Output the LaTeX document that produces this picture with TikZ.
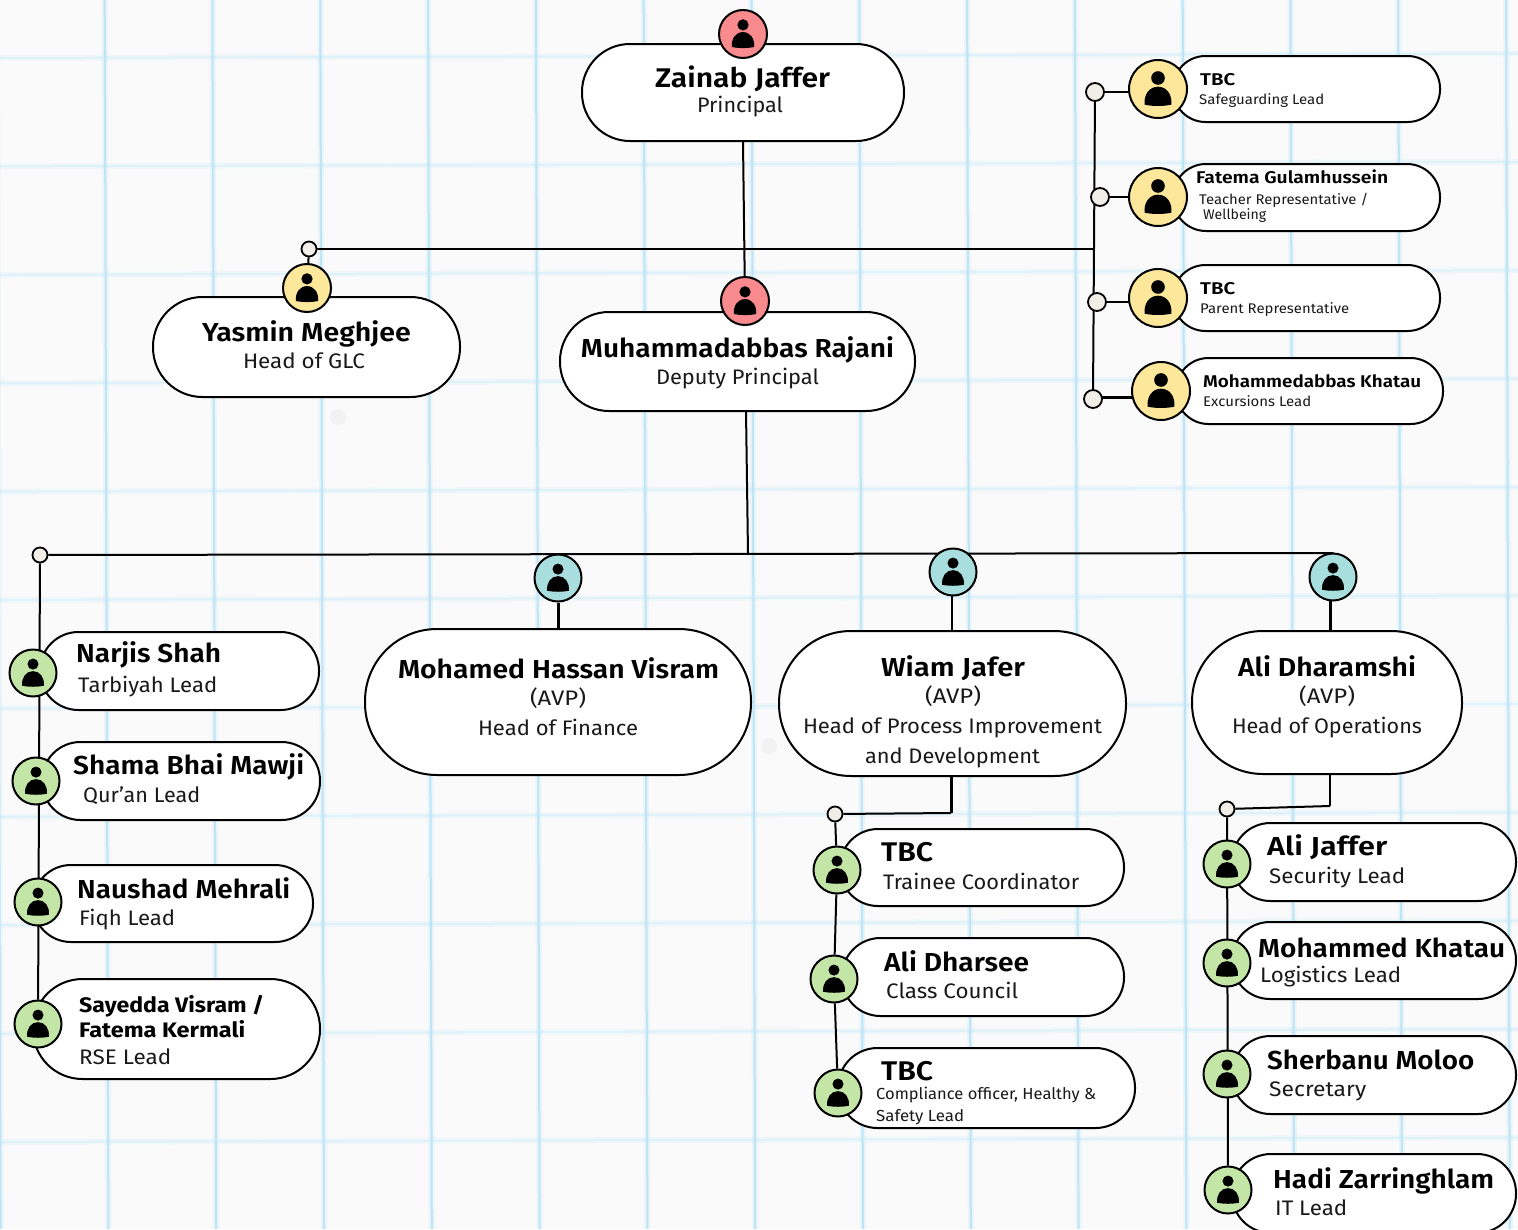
\documentclass[tikz,border=0pt]{standalone}
\usepackage{fontspec}
\usepackage{graphicx}
\setmainfont{Fira Sans}
\newfontfamily\nmf{Fira Sans SemiBold}
\newfontfamily\bdf{Fira Sans Bold}
\usetikzlibrary{backgrounds}
\definecolor{paper}{HTML}{FAFAFB}
\definecolor{gridv}{HTML}{BDE5F6}
\definecolor{gridh}{HTML}{DFF2FA}
\definecolor{cred}{HTML}{F98A8E}
\definecolor{cyel}{HTML}{FDE79A}
\definecolor{ctea}{HTML}{A9DEDF}
\definecolor{cgrn}{HTML}{C3E6A6}
\definecolor{cjun}{HTML}{F1EEE8}
\tikzset{
  pill/.style={draw=black,line width=2pt,fill=white,inner sep=0pt},
  avatar/.style={circle,draw=black,line width=2pt,inner sep=0pt},
  junction/.style={circle,draw=black,line width=1.8pt,fill=cjun,inner sep=0pt,minimum size=16pt},
  conn/.style={draw=black,line width=2pt},
  nametext/.style={font=\nmf\fontsize{#1}{#1}\selectfont,inner sep=0pt,text=black},
  subtext/.style={font=\fontsize{#1}{#1}\selectfont,inner sep=0pt,text=black!90},
}
% \pillbox{name}{x0}{y0}{x1}{y1}{radius}
\newcommand{\pillbox}[6]{%
  \pgfmathsetmacro{\pw}{#4-#2}\pgfmathsetmacro{\ph}{#5-#3}%
  \node[pill,rounded corners=#6pt,minimum width=\pw pt,minimum height=\ph pt] (#1) at ({(#2+#4)/2},{(#3+#5)/2}) {};}
% \person{name}{x}{y}{r}{colour}
\newcommand{\person}[5]{%
  \pgfmathsetmacro{\dd}{2*#4}%
  \node[avatar,fill=#5,minimum size=\dd pt] (#1) at (#2,#3) {};
  \begin{scope}[shift={(#1.center)},x=#4pt,y=-#4pt]
    \fill[black] (0,-.38) circle[radius=.235];
    \fill[black] (-.46,.54) .. controls (-.5,.2) and (-.3,-.08) .. (0,-.08)
      .. controls (.3,-.08) and (.5,.2) .. (.46,.54)
      .. controls (.2,.6) and (-.2,.6) .. cycle;
  \end{scope}}
% text nodes: name, x, baseline y, anchor, size, width, text
\newcommand{\nt}[7]{\node[nametext=#5,anchor=#4] (#1) at (#2,#3) {\resizebox{#6pt}{\height}{#7}};}
\newcommand{\st}[7]{\node[subtext=#5,anchor=#4] (#1) at (#2,#3) {\resizebox{#6pt}{\height}{#7}};}
\begin{document}
\begin{tikzpicture}[x=1pt,y=-1pt]
\useasboundingbox (0,0) rectangle (1518,1229);
\clip (0,0) rectangle (1518,1229);

% ---------- nodes ----------
\pillbox{zainab}{582}{44}{904}{141}{48}
\pillbox{yasmin}{153}{297}{460}{397}{49.5}
\pillbox{rajani}{560}{312}{915}{411}{49}
\pillbox{rb1}{1173}{56}{1440}{122}{32.5}
\pillbox{rb2}{1173}{164}{1440}{231}{33}
\pillbox{rb3}{1173}{265}{1440}{331}{32.5}
\pillbox{rb4}{1176}{358}{1443}{424}{32.5}
\pillbox{visram}{365}{629}{751}{775}{72}
\pillbox{wiam}{779}{631}{1126}{776}{72}
\pillbox{dharamshi}{1192}{631}{1462}{774}{71}
\pillbox{narjis}{40}{632}{319}{710}{38.5}
\pillbox{shama}{42}{742}{320}{820}{38.5}
\pillbox{naushad}{33}{865}{313}{942}{38}
\pillbox{sayedda}{33}{979}{320}{1079}{49.5}
\pillbox{tbca}{840}{829}{1124}{906}{38}
\pillbox{dharsee}{842}{938}{1124}{1016}{38.5}
\pillbox{tbcb}{838}{1048}{1135}{1128}{39.5}
\pillbox{jaffer}{1232}{823}{1516}{901}{38.5}
\pillbox{khatau}{1232}{922}{1516}{999}{38}
\pillbox{moloo}{1232}{1036}{1516}{1114}{38.5}
\pillbox{hadi}{1232}{1154}{1516}{1233}{39}

\person{azainab}{743}{34}{24}{cred}
\person{arajani}{745}{301}{24}{cred}
\person{ayasmin}{307}{288}{24}{cyel}
\person{arb1}{1158}{89}{29}{cyel}
\person{arb2}{1158}{197}{29}{cyel}
\person{arb3}{1158}{298}{29}{cyel}
\person{arb4}{1161}{391}{29}{cyel}
\person{avisram}{558}{578}{23.5}{ctea}
\person{awiam}{953}{572}{23.5}{ctea}
\person{adharamshi}{1333}{577}{23.5}{ctea}
\person{anarjis}{33}{673}{23.5}{cgrn}
\person{ashama}{36}{781}{23.5}{cgrn}
\person{anaushad}{38}{902}{23.5}{cgrn}
\person{asayedda}{38}{1024}{23.5}{cgrn}
\person{atbca}{837}{870}{23.5}{cgrn}
\person{adharsee}{834}{979}{23.5}{cgrn}
\person{atbcb}{838}{1093}{23.5}{cgrn}
\person{ajaffer}{1227}{864}{23.5}{cgrn}
\person{akhatau}{1227}{963}{23.5}{cgrn}
\person{amoloo}{1227}{1074}{23.5}{cgrn}
\person{ahadi}{1228}{1190}{23.5}{cgrn}

\node[junction,minimum size=15pt] (jglc) at (309,249) {};
\node[junction,minimum size=18pt] (jr1) at (1095,92) {};
\node[junction,minimum size=18pt] (jr2) at (1100,197) {};
\node[junction,minimum size=18pt] (jr3) at (1097,302) {};
\node[junction,minimum size=18pt] (jr4) at (1093,399) {};
\node[junction,minimum size=15pt] (jleft) at (40,555) {};
\node[junction,minimum size=15pt] (jwiam) at (835,814) {};
\node[junction,minimum size=15pt] (jali) at (1227,809) {};

\coordinate (cglc) at (1095,249);
\coordinate (ctop) at (1333,553);
\coordinate (crajbot) at (746,411);
\coordinate (cbranch) at (748,554);
\coordinate (cvisram) at (558,554);
\coordinate (cwiam) at (953,554);
\coordinate (cwiamel) at (951,813);
\coordinate (calitop) at (1330,774);
\coordinate (caliel) at (1330,806);
\coordinate (cwiamtop) at (951,776);
\coordinate (cwiamupper) at (952,596);
\coordinate (cwiamin) at (952,631);
\coordinate (caliupper) at (1330,600);
\coordinate (caliin) at (1330,631);
\coordinate (cr1) at (1135,92);
\coordinate (cr2) at (1135,197);
\coordinate (cr3) at (1135,302);
\coordinate (cr4a) at (1093,397);
\coordinate (cr4b) at (1140,397);

% ---------- texts ----------
\nt{t1}{742.5}{87}{base}{27}{175}{Zainab Jaffer}
\st{t2}{740}{112}{base}{21}{86}{Principal}
\nt{t3}{306.5}{341}{base}{26}{209}{Yasmin Meghjee}
\st{t4}{304}{368}{base}{21}{122}{Head of GLC}
\nt{t5}{737.5}{357}{base}{26}{313}{Muhammadabbas Rajani}
\st{t6}{737.5}{384}{base}{21}{163}{Deputy Principal}
\nt{t7}{1200}{85}{base west}{17}{35}{TBC}
\st{t8}{1199}{104}{base west}{14}{125}{Safeguarding Lead}
\nt{t9}{1196}{183}{base west}{17}{192}{Fatema Gulamhussein}
\st{t10}{1199}{204}{base west}{14}{169}{Teacher Representative /}
\st{t11}{1203}{219}{base west}{14}{63}{Wellbeing}
\nt{t12}{1200}{294}{base west}{17}{35}{TBC}
\st{t13}{1200}{313}{base west}{14}{149}{Parent Representative}
\nt{t14}{1203}{387}{base west}{17}{218}{Mohammedabbas Khatau}
\st{t15}{1203}{406}{base west}{14}{108}{Excursions Lead}
\nt{t16}{558.5}{678}{base}{26}{321}{Mohamed Hassan Visram}
\st{t17}{558}{705}{base}{21}{56}{(AVP)}
\st{t18}{558}{735}{base}{21}{160}{Head of Finance}
\nt{t19}{953}{676}{base}{26}{144}{Wiam Jafer}
\st{t20}{953}{703}{base}{21}{56}{(AVP)}
\st{t21}{952.5}{733}{base}{21}{299}{Head of Process Improvement}
\st{t22}{952.5}{763}{base}{21}{175}{and Development}
\nt{t23}{1327}{676}{base}{26}{178}{Ali Dharamshi}
\st{t24}{1327}{703}{base}{21}{56}{(AVP)}
\st{t25}{1327}{733}{base}{21}{190}{Head of Operations}
\nt{t26}{76}{662}{base west}{26}{145}{Narjis Shah}
\st{t27}{78}{692}{base west}{21}{139}{Tarbiyah Lead}
\nt{t28}{73}{774}{base west}{26}{231}{Shama Bhai Mawji}
\st{t29}{83}{802}{base west}{21}{117}{Qur’an Lead}
\nt{t30}{77}{898}{base west}{26}{213}{Naushad Mehrali}
\st{t31}{79}{925}{base west}{21}{96}{Fiqh Lead}
\nt{t32}{79}{1012}{base west}{21}{185}{\bdf Sayedda Visram /}
\nt{t33}{79}{1037}{base west}{21}{166}{\bdf Fatema Kermali}
\st{t34}{79}{1064}{base west}{21}{92}{RSE Lead}
\nt{t35}{881}{861}{base west}{27}{52}{TBC}
\st{t36}{883}{889}{base west}{21}{196}{Trainee Coordinator}
\nt{t37}{884}{971}{base west}{26}{145}{Ali Dharsee}
\st{t38}{886}{998}{base west}{21}{132}{Class Council}
\nt{t39}{881}{1080}{base west}{27}{52}{TBC}
\st{t40}{876}{1099}{base west}{16}{220}{Compliance officer, Healthy \&}
\st{t41}{876}{1121}{base west}{16}{88}{Safety Lead}
\nt{t42}{1267}{855}{base west}{26}{120}{Ali Jaffer}
\st{t43}{1269}{883}{base west}{21}{136}{Security Lead}
\nt{t44}{1258}{957}{base west}{26}{247}{Mohammed Khatau}
\st{t45}{1260}{982}{base west}{21}{141}{Logistics Lead}
\nt{t46}{1267}{1069}{base west}{26}{207}{Sherbanu Moloo}
\st{t47}{1269}{1096}{base west}{21}{97}{Secretary}
\nt{t48}{1273}{1188}{base west}{26}{221}{Hadi Zarringhlam}
\st{t49}{1275}{1215}{base west}{21}{72}{IT Lead}

% ---------- paper and connectors ----------
\begin{pgfonlayer}{background}
  \fill[paper] (0,0) rectangle (1518,1229);
  \foreach \k in {0,...,10} {
    \pgfmathsetmacro{\ya}{58+108.4*\k}
    \pgfmathsetmacro{\yb}{\ya-4.5}
    \draw[gridh,opacity=.35,line width=6pt] (0,\ya) -- (1518,\yb);
    \draw[gridh,line width=2pt] (0,\ya) -- (1518,\yb);
  }
  \foreach \k in {-1,...,13} {
    \pgfmathsetmacro{\xa}{104.7+107.8*\k}
    \pgfmathsetmacro{\xb}{\xa+3.7}
    \draw[gridv,opacity=.25,line width=6pt] (\xa,0) -- (\xb,1229);
    \draw[gridv,line width=2pt] (\xa,0) -- (\xb,1229);
  }
  \fill[black!5] (338,417) circle[radius=8];
  \fill[black!5] (769,746) circle[radius=8];
  \draw[conn] (zainab.south) -- (arajani);
  \draw[conn] (jglc) -- (ayasmin);
  \draw[conn] (jglc) -- (cglc);
  \draw[conn] (jr1) -- (jr4);
  \draw[conn] (jr1) -- (cr1);
  \draw[conn] (jr2) -- (cr2);
  \draw[conn] (jr3) -- (cr3);
  \draw[conn,line width=3pt] (cr4a) -- (cr4b);
  \draw[conn] (crajbot) -- (cbranch);
  \draw[conn] (jleft) -- (ctop) -- (adharamshi);
  \draw[conn] (cvisram) -- (avisram);
  \draw[conn] (cwiam) -- (awiam);
  \draw[conn,line width=3pt] (avisram) -- (visram.north);
  \draw[conn] (cwiamupper) -- (cwiamin);
  \draw[conn,line width=3pt] (caliupper) -- (caliin);
  \draw[conn] (jleft) -- (asayedda);
  \draw[conn,line width=3pt] (cwiamtop) -- (cwiamel);
  \draw[conn] (cwiamel) -- (jwiam);
  \draw[conn] (jwiam) -- (atbca);
  \draw[conn] (atbca) -- (adharsee);
  \draw[conn] (adharsee) -- (atbcb);
  \draw[conn,line width=2.5pt] (calitop) -- (caliel);
  \draw[conn] (caliel) -- (jali);
  \draw[conn] (jali) -- (ahadi);
\end{pgfonlayer}
\end{tikzpicture}
\end{document}
